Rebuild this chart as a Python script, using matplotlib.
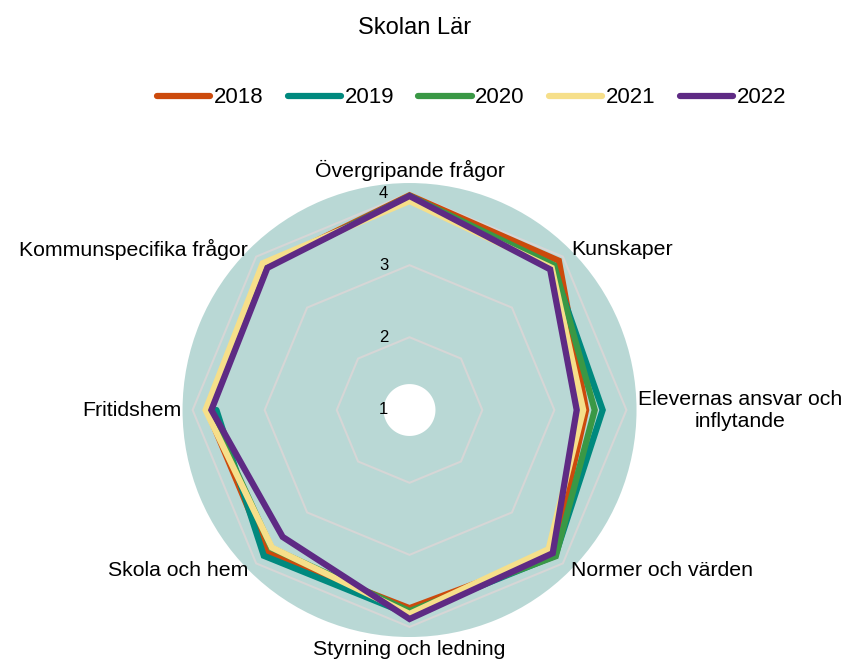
import numpy as np
import matplotlib
matplotlib.use('Agg')
import matplotlib.pyplot as plt
from matplotlib.lines import Line2D

plt.rcParams['font.family'] = ['Liberation Sans', 'DejaVu Sans']

categories = ['Övergripande frågor', 'Kunskaper', 'Elevernas ansvar och\ninflytande',
              'Normer och värden', 'Styrning och ledning', 'Skola och hem',
              'Fritidshem', 'Kommunspecifika frågor']
years = ['2018', '2019', '2020', '2021', '2022']
v2018 = [3.97, 3.92, 3.44, 3.82, 3.74, 3.79, 3.80, 3.82]
v2019 = [3.96, 3.80, 3.67, 3.85, 3.83, 3.85, 3.67, np.nan]
v2020 = [3.96, 3.83, 3.56, 3.86, 3.78, 3.70, 3.78, 3.80]
v2021 = [3.89, 3.78, 3.40, 3.72, 3.82, 3.69, 3.82, 3.87]
v2022 = [3.96, 3.75, 3.31, 3.80, 3.89, 3.48, 3.74, 3.78]
series = [v2018, v2019, v2020, v2021, v2022]
colors = ['#cc4a0c', '#00897e', '#3a9845', '#f6df8a', '#5e2a84']
ticks = [1, 2, 3, 4]
r_lo, r_hole, r_hi = 0.99, 1.35, 4.14

n = len(categories)
theta = np.arange(n) * 2 * np.pi / n

fig = plt.figure(figsize=(8.45, 6.61), dpi=100)
ax = fig.add_axes([0.2160, 0.0363, 0.5373, 0.6868], projection='polar')
ax.set_theta_zero_location('N')
ax.set_theta_direction(-1)
ax.set_ylim(r_lo, r_hi)
ax.set_facecolor('#b9d8d5')
for s in ax.spines.values():
    s.set_visible(False)
ax.grid(False)
ax.set_xticks([])
ax.set_yticks([])

# white hole in the middle
tt = np.linspace(0, 2 * np.pi, 200)
ax.fill(tt, np.full_like(tt, r_hole), color='white', lw=0, zorder=2)

# polygon gridlines
for t in ticks[1:]:
    ax.fill(theta, [t] * n, fill=False, edgecolor='#d6d6d6', lw=1.5, zorder=1)

for vals, col in zip(series, colors):
    vals = np.array(vals, dtype=float)
    if np.isnan(vals).any():
        th = np.append(theta, theta[0])
        vv = np.append(vals, vals[0])
        ax.plot(th, vv, color=col, lw=4.5, solid_capstyle='round',
                solid_joinstyle='miter', zorder=3)
    else:
        ax.fill(theta, vals, fill=False, edgecolor=col, lw=4.5,
                joinstyle='miter', zorder=3)

for t in ticks:
    ax.annotate(str(t), xy=(0, t), xytext=(-26, 0), textcoords='offset pixels',
                ha='center', va='center', fontsize=12, annotation_clip=False, zorder=4)

for ang, lab in zip(theta, categories):
    deg = np.degrees(ang) % 360
    if deg == 0:
        ha, va, off = 'center', 'bottom', (0, 2)
    elif deg == 180:
        ha, va, off = 'center', 'top', (0, -3)
    elif deg < 180:
        ha, va, off = 'left', 'center', (1, 0)
    else:
        ha, va, off = 'right', 'center', (-1, 0)
    ax.annotate(lab, xy=(ang, r_hi), xytext=off, textcoords='offset pixels',
                ha=ha, va=va, multialignment='center', fontsize=15.3,
                annotation_clip=False)

handles = [Line2D([0], [0], color=c, lw=4.5, solid_capstyle='round') for c in colors]
fig.legend(handles, years, loc='center', bbox_to_anchor=(0.558, 0.852), ncol=5,
           frameon=False, fontsize=16, handlelength=2.4, handletextpad=0.15,
           columnspacing=1.1)

fig.suptitle('Skolan Lär', x=0.491, y=0.958, va='center', fontsize=17)

fig.savefig('out.png', dpi=100)
